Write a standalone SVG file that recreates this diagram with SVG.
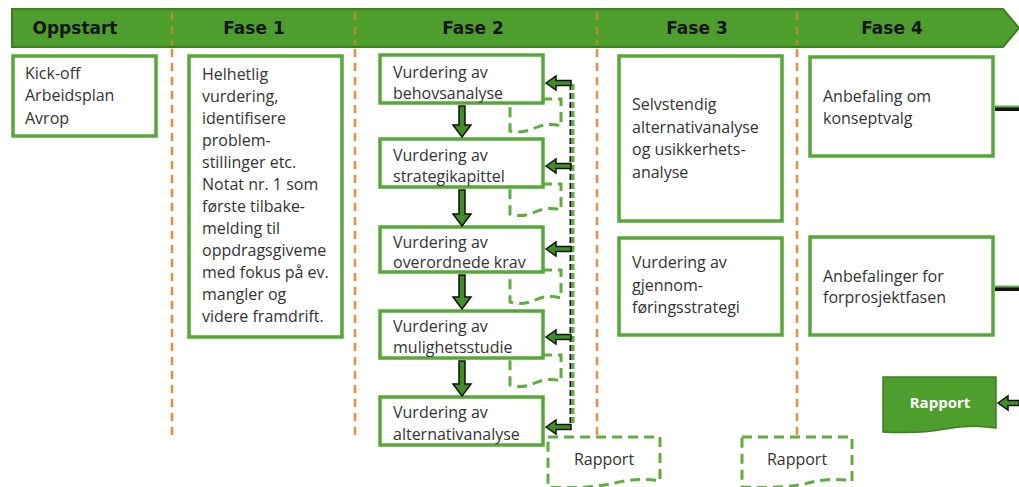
<svg xmlns="http://www.w3.org/2000/svg" width="1019" height="487" viewBox="0 0 1019 487">
<style>
.box{fill:#fff;stroke:#55a935;stroke-width:3.5}
.t{font-family:"Open Sans","Liberation Sans",sans-serif;font-size:16px;fill:#333}
.h{font-family:"DejaVu Sans","Liberation Sans",sans-serif;font-weight:bold;font-size:17px;fill:#151515;text-anchor:middle}
.or{stroke:#f28a3a;stroke-width:2.5;stroke-dasharray:8 6;fill:none}
.dash{fill:none;stroke:#5cb03a;stroke-width:3;stroke-dasharray:10 6}
.arr{fill:#3f8f25;stroke:#111;stroke-width:1.5}
</style>
<rect width="1019" height="487" fill="#fff"/>
<g id="header">
<polygon points="12,9 1003,9 1019,28 1003,47 12,47" fill="#4d9e2c" stroke="#3b7f1f" stroke-width="2"/>
<g class="or" opacity="0.55"><line x1="172" y1="12" x2="172" y2="45"/><line x1="355" y1="12" x2="355" y2="45"/><line x1="597" y1="12" x2="597" y2="45"/><line x1="797" y1="12" x2="797" y2="45"/></g>
<text class="h" x="75" y="34">Oppstart</text>
<text class="h" x="254" y="34">Fase 1</text>
<text class="h" x="473" y="34">Fase 2</text>
<text class="h" x="697" y="34">Fase 3</text>
<text class="h" x="892" y="34">Fase 4</text>
</g>
<g id="dividers" class="or">
<line x1="172" y1="49" x2="172" y2="437"/>
<line x1="355" y1="49" x2="355" y2="437"/>
<line x1="597" y1="49" x2="597" y2="435"/>
<line x1="797" y1="49" x2="797" y2="435"/>
</g>
<g id="oppstart">
<rect class="box" x="13" y="56" width="143" height="80"/>
<text class="t" x="25" y="79">Kick-off</text>
<text class="t" x="25" y="101">Arbeidsplan</text>
<text class="t" x="25" y="124">Avrop</text>
</g>
<g id="fase1">
<rect class="box" x="189" y="56" width="153" height="281"/>
<text class="t" x="202" y="80">Helhetlig</text>
<text class="t" x="202" y="102">vurdering,</text>
<text class="t" x="202" y="124">identifisere</text>
<text class="t" x="202" y="146">problem-</text>
<text class="t" x="202" y="168">stillinger etc.</text>
<text class="t" x="202" y="190">Notat nr. 1 som</text>
<text class="t" x="202" y="212">første tilbake-</text>
<text class="t" x="202" y="234">melding til</text>
<text class="t" x="202" y="256">oppdragsgiveme</text>
<text class="t" x="202" y="278">med fokus på ev.</text>
<text class="t" x="202" y="300">mangler og</text>
<text class="t" x="202" y="322">videre framdrift.</text>
</g>
<g id="fase2-dashed">
<path class="dash" d="M510,99 H561 V126 Q548,122 535,128 T510,131 Z"/>
<path class="dash" d="M510,184 H561 V210 Q548,206 535,212 T510,214 Z"/>
<path class="dash" d="M510,270 H561 V298 Q548,294 535,300 T510,302 Z"/>
<path class="dash" d="M510,355 H561 V381 Q548,377 535,383 T510,385 Z"/>
</g>
<g id="fase2-b1"><rect class="box" x="380" y="55" width="163" height="48"/>
<text class="t" x="393" y="78">Vurdering av</text><text class="t" x="393" y="99">behovsanalyse</text></g>
<g id="fase2-b2"><rect class="box" x="380" y="139" width="163" height="48"/>
<text class="t" x="393" y="161">Vurdering av</text><text class="t" x="393" y="182">strategikapittel</text></g>
<g id="fase2-b3"><rect class="box" x="380" y="227" width="163" height="45"/>
<text class="t" x="393" y="248">Vurdering av</text><text class="t" x="393" y="268">overordnede krav</text></g>
<g id="fase2-b4"><rect class="box" x="380" y="311" width="163" height="47"/>
<text class="t" x="393" y="332">Vurdering av</text><text class="t" x="393" y="353">mulighetsstudie</text></g>
<g id="fase2-b5"><rect class="box" x="380" y="397" width="163" height="48"/>
<text class="t" x="393" y="418">Vurdering av</text><text class="t" x="393" y="440">alternativanalyse</text></g>
<g id="rapport1">
<path class="dash" d="M548,437 H660 V481 Q640,477 615,483 T548,487 Z"/>
<text class="t" x="604" y="465" text-anchor="middle">Rapport</text>
</g>
<g id="rapport2">
<path class="dash" d="M742,437 H852 V481 Q832,477 808,483 T742,487 Z"/>
<text class="t" x="797" y="465" text-anchor="middle">Rapport</text>
</g>
<g id="fase3-b1"><rect class="box" x="619" y="56" width="163" height="165"/>
<text class="t" x="632" y="110">Selvstendig</text><text class="t" x="632" y="133">alternativanalyse</text>
<text class="t" x="632" y="155">og usikkerhets-</text><text class="t" x="632" y="178">analyse</text></g>
<g id="fase3-b2"><rect class="box" x="619" y="238" width="163" height="97"/>
<text class="t" x="632" y="268">Vurdering av</text><text class="t" x="632" y="291">gjennom-</text>
<text class="t" x="632" y="313">føringsstrategi</text></g>
<g id="fase4-b1"><rect class="box" x="810" y="57" width="183" height="99"/>
<text class="t" x="823" y="102">Anbefaling om</text><text class="t" x="823" y="124">konseptvalg</text></g>
<g id="fase4-b2"><rect class="box" x="810" y="237" width="183" height="98"/>
<text class="t" x="823" y="282">Anbefalinger for</text><text class="t" x="823" y="303">forprosjektfasen</text></g>
<g id="rapport3">
<path d="M883,377 H996 V428 Q970,424 945,429 T883,432 Z" fill="#4d9e2c" stroke="#3b7f1f" stroke-width="1.5"/>
<text x="940" y="408" text-anchor="middle" font-family="'Open Sans','Liberation Sans',sans-serif" font-weight="bold" font-size="15" fill="#fff">Rapport</text>
</g>
<g id="connectors">
<g class="arr">
<path d="M459,106 H465 V125 H471 L462,137 L453,125 H459 Z"/>
<path d="M459,190 H465 V214 H471 L462,226 L453,214 H459 Z"/>
<path d="M459,275 H465 V297 H471 L462,309 L453,297 H459 Z"/>
<path d="M459,361 H465 V384 H471 L462,396 L453,384 H459 Z"/>
</g>
<line x1="570.5" y1="84" x2="570.5" y2="424" stroke="#111" stroke-width="2" stroke-dasharray="6 3"/>
<line x1="573" y1="84" x2="573" y2="424" stroke="#5cb03a" stroke-width="3" stroke-dasharray="6 3"/>
<g class="arr">
<path d="M546,83 L556,76 V80.5 H571 V85.5 H556 V90 Z"/>
<path d="M546,166 L556,159 V163.5 H571 V168.5 H556 V173 Z"/>
<path d="M546,249 L556,242 V246.5 H571 V251.5 H556 V256 Z"/>
<path d="M546,337 L556,330 V334.5 H571 V339.5 H556 V344 Z"/>
<path d="M546,427 L556,420 V424.5 H571 V429.5 H556 V434 Z"/>
<path d="M998,403 L1008,396 V400.5 H1019 V405.5 H1008 V410 Z"/>
</g>
<line x1="995" y1="109" x2="1019" y2="109" stroke="#111" stroke-width="4"/>
<line x1="995" y1="106.5" x2="1019" y2="106.5" stroke="#5cb03a" stroke-width="2"/>
<line x1="995" y1="289" x2="1019" y2="289" stroke="#111" stroke-width="4"/>
<line x1="995" y1="286.5" x2="1019" y2="286.5" stroke="#5cb03a" stroke-width="2"/>
</g>
</svg>
